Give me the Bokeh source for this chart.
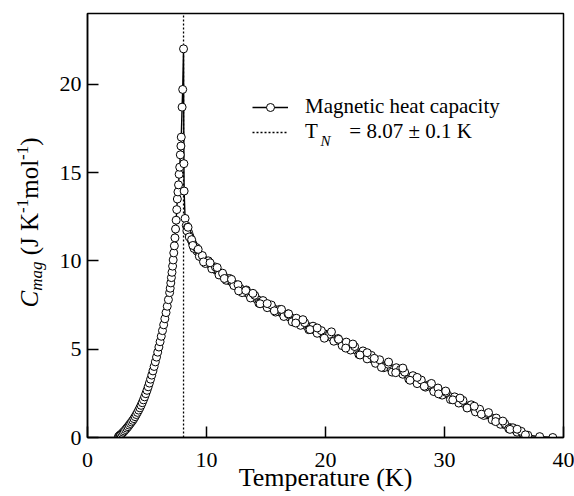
import math
from bokeh.plotting import figure
from bokeh.models import Label, Legend, LegendItem, FixedTicker, Range1d
from bokeh.layouts import row
from bokeh.embed import file_html
from bokeh.resources import INLINE

# ---------------- data ----------------
x_ticks = [0, 10, 20, 30, 40]
y_ticks = [0, 5, 10, 15, 20]
T_N = 8.07

# run A : main measured curve (T in K, C_mag in J K^-1 mol^-1)
runA_T = [2.6, 2.65, 2.7, 2.75, 2.8, 2.9, 3.0, 3.1, 3.2, 3.3, 3.4, 3.5, 3.6, 3.7, 3.8, 3.9,
          4.0, 4.1, 4.2, 4.3, 4.4, 4.5, 4.6, 4.7, 4.8, 4.9, 5.0, 5.1, 5.2, 5.3, 5.4, 5.5,
          5.6, 5.7, 5.8, 5.9, 6.0, 6.1, 6.2, 6.3, 6.4, 6.5, 6.6, 6.7, 6.8, 6.9, 6.95, 7.0,
          7.05, 7.1, 7.15, 7.2, 7.25, 7.3, 7.35, 7.4, 7.45, 7.5, 7.55, 7.6, 7.65, 7.7, 7.75,
          7.8, 7.85, 7.88, 7.95, 8.0, 8.07,
          8.1, 8.12, 8.2, 8.3, 8.4, 8.5, 8.6, 8.7, 8.8, 8.9, 9.0, 9.2, 9.4, 9.6, 9.8, 10.0,
          10.2, 10.4, 10.6, 10.8, 11.0, 11.2, 11.4, 11.6, 11.8, 12.0, 12.2, 12.4, 12.6, 12.8,
          13.0, 13.2, 13.4, 13.6, 13.8, 14.0, 14.2, 14.4, 14.6, 14.8, 15.0, 15.2, 15.4, 15.6,
          15.8, 16.0, 16.2, 16.4, 16.6, 16.8, 17.0, 17.2, 17.4, 17.6, 17.8, 18.0, 18.2, 18.4,
          18.6, 18.8, 19.0, 19.2, 19.4, 19.6, 19.8, 20.0, 20.5, 21.0, 21.5, 22.0, 22.5, 23.0,
          23.5, 24.0, 24.5, 25.0, 25.5, 26.0, 26.5, 27.0, 27.5, 28.0, 28.5, 29.0, 29.5, 30.0,
          30.5, 31.0, 31.5, 32.0, 32.5, 33.0, 33.5, 34.0, 34.5, 35.0, 35.5, 36.0, 36.5, 37.0,
          38.0, 39.1]
runA_C = [0.05, 0.08, 0.11, 0.14, 0.17, 0.23, 0.3, 0.37, 0.45, 0.53, 0.61, 0.7, 0.79, 0.88, 0.97, 1.07,
          1.18, 1.3, 1.42, 1.55, 1.68, 1.82, 1.97, 2.13, 2.3, 2.48, 2.67, 2.87, 3.08, 3.3, 3.53, 3.77,
          4.02, 4.28, 4.55, 4.83, 5.12, 5.42, 5.73, 6.05, 6.38, 6.72, 7.07, 7.43, 7.8, 8.2, 8.45, 8.75,
          9.05, 9.35, 9.7, 10.05, 10.45, 10.85, 11.3, 11.8, 12.3, 12.9, 13.5, 13.9, 14.3, 14.9, 15.3,
          16.0, 16.5, 17.0, 18.7, 19.7, 22.0,
          15.5, 13.95, 12.4, 12.0, 11.9, 11.6, 11.4, 11.2, 11.05, 10.9, 10.8, 10.55, 10.35, 10.2, 10.05, 9.95,
          9.85, 9.72, 9.6, 9.48, 9.37, 9.27, 9.16, 9.05, 8.95, 8.85, 8.75, 8.65, 8.55, 8.45,
          8.36, 8.27, 8.18, 8.09, 8.0, 7.92, 7.84, 7.76, 7.68, 7.6, 7.52, 7.45, 7.38, 7.3,
          7.23, 7.16, 7.09, 7.02, 6.95, 6.88, 6.81, 6.74, 6.67, 6.6, 6.53, 6.46, 6.39, 6.32,
          6.25, 6.18, 6.11, 6.04, 5.97, 5.9, 5.83, 5.85, 5.68, 5.5, 5.33, 5.15, 4.97, 4.78,
          4.6, 4.42, 4.24, 4.06, 3.9, 3.74, 3.58, 3.42, 3.26, 3.1, 2.94, 2.78, 2.62, 2.46,
          2.3, 2.13, 1.96, 1.79, 1.62, 1.45, 1.28, 1.1, 0.92, 0.74, 0.56, 0.4, 0.25, 0.13,
          0.05, 0.0]

# run B : repeated measurement above T_N
runB_T = [8.35, 8.55, 8.75, 8.95, 9.15, 9.4, 9.65, 9.9, 10.15, 10.45, 10.75, 11.05, 11.35, 11.65,
          11.95, 12.3, 12.65, 13.0, 13.35, 13.7, 14.05, 14.4, 14.75, 15.1, 15.45, 15.8, 16.15,
          16.5, 16.85, 17.2, 17.55, 17.9, 18.25, 18.6, 18.95, 19.3, 19.65, 20.0, 20.35, 20.7,
          21.05, 21.4, 21.75, 22.1, 22.45, 22.8, 23.15, 23.5, 23.85, 24.2, 24.55, 24.9, 25.25,
          25.6, 25.95, 26.3, 26.65, 27.0, 27.35, 27.7, 28.05, 28.4, 28.75, 29.1, 29.45, 29.8,
          30.15, 30.5, 30.85, 31.2, 31.55, 31.9, 32.25, 32.6, 32.95, 33.3, 33.65, 34.0, 34.35,
          34.7, 35.05, 35.4, 35.75, 36.1, 36.45, 36.8]
runB_C = [11.7, 11.35, 11.2, 10.7, 10.75, 10.25, 10.3, 9.85, 10.0, 9.55, 9.65, 9.2, 9.3, 8.9,
          9.0, 8.6, 8.65, 8.2, 8.35, 7.9, 8.05, 7.6, 7.75, 7.35, 7.5, 7.1, 7.25,
          6.85, 7.0, 6.55, 6.75, 6.35, 6.5, 6.1, 6.3, 5.9, 6.05, 5.7, 5.85, 5.45,
          5.6, 5.2, 5.4, 4.95, 5.15, 4.7, 4.9, 4.45, 4.65, 4.2, 4.4, 3.95, 4.15,
          3.7, 3.95, 3.85, 3.7, 3.3, 3.5, 3.05, 3.25, 2.85, 3.0, 2.6, 2.8, 2.4,
          2.55, 2.15, 2.3, 1.95, 2.1, 1.7, 1.85, 1.45, 1.6, 1.25, 1.35, 1.0, 1.1,
          0.75, 0.8, 0.5, 0.55, 0.3, 0.35, 0.15]

# run C : third measurement above T_N
runC_T = [8.45, 8.85, 9.3, 9.75, 10.3, 10.9, 11.5, 12.1, 12.7, 13.3, 13.9, 14.5, 15.1, 15.7,
          16.3, 16.9, 17.5, 18.1, 18.7, 19.3, 19.9, 20.5, 21.1, 21.7, 22.3, 22.9, 23.5, 24.1,
          24.7, 25.3, 25.9, 26.5, 27.1, 27.7, 28.3, 28.9, 29.5, 30.1, 30.7, 31.3, 31.9, 32.5,
          33.1, 33.7, 34.3, 34.9, 35.5, 36.1]
runC_C = [11.9, 10.87, 10.65, 9.94, 9.89, 9.62, 9.0, 8.95, 8.3, 8.32, 8.16, 7.57, 7.58, 7.17,
          7.25, 7.0, 6.48, 6.67, 6.11, 6.2, 5.62, 5.98, 5.56, 5.06, 5.29, 4.67, 4.8, 4.48,
          3.97, 4.27, 3.67, 3.93, 3.24, 3.4, 2.9, 3.06, 2.47, 2.63, 2.13, 2.23, 1.67, 1.77,
          1.32, 1.41, 0.9, 0.93, 0.46, 0.47]

legend_labels = ["Magnetic heat capacity", "T\u2003\u2002= 8.07 \u00b1 0.1 K"]
x_title = "Temperature (K)"

# ---------------- layout constants ----------------
FONT = "Liberation Serif"
W, H = 574, 496
LW = 50                     # width of the strip holding the y title
L, R, TOP, B = 87, 11, 13, 59
fw, fh = W - L - R, H - TOP - B
x0, x1, y0, y1 = 0, 40, 0, 24

# ---------------- main figure ----------------
p = figure(width=W - LW, height=H, x_range=Range1d(x0, x1), y_range=Range1d(y0, y1),
           output_backend="svg", toolbar_location=None,
           min_border_left=L - LW, min_border_right=R, min_border_top=TOP, min_border_bottom=B)
p.grid.visible = False
p.outline_line_color = "black"
p.outline_line_width = 1.5
p.background_fill_color = "white"
p.border_fill_color = "white"

for ax, ticks in ((p.xaxis, x_ticks), (p.yaxis, y_ticks)):
    ax.ticker = FixedTicker(ticks=ticks, minor_ticks=[])
    ax.major_tick_in = 11
    ax.major_tick_out = 0
    ax.minor_tick_in = 0
    ax.minor_tick_out = 0
    ax.axis_line_width = 1.5
    ax.major_tick_line_width = 1.5
    ax.major_label_text_font = FONT
    ax.major_label_text_font_size = "22px"
    ax.major_label_text_color = "black"
p.xaxis.major_label_standoff = 15
p.yaxis.major_label_standoff = 6
p.xaxis.axis_label = x_title
p.xaxis.axis_label_text_font = FONT
p.xaxis.axis_label_text_font_style = "normal"
p.xaxis.axis_label_text_font_size = "26px"
p.xaxis.axis_label_text_color = "black"
p.xaxis.axis_label_standoff = -7

# vertical T_N line (spans the whole y range)
tn = p.segment(x0=[T_N], y0=[y0], x1=[T_N], y1=[y1], line_color="black",
               line_dash="2 2", line_width=1.3)

# data
lines = [p.line(xs, ys, line_color="black", line_width=1.4)
         for xs, ys in ((runA_T, runA_C), (runB_T, runB_C), (runC_T, runC_C))]
dots = [p.scatter(xs, ys, marker="circle", size=8, fill_color="white",
                  line_color="black", line_width=1)
        for xs, ys in ((runA_T, runA_C), (runB_T, runB_C), (runC_T, runC_C))]

legend = Legend(items=[LegendItem(label=legend_labels[0], renderers=[lines[0], dots[0]]),
                       LegendItem(label=legend_labels[1], renderers=[tn])],
                location=(165, 293), glyph_width=36, glyph_height=20, label_height=20,
                label_standoff=17, padding=0, margin=0, spacing=0,
                border_line_alpha=0, background_fill_alpha=0,
                label_text_font=FONT, label_text_font_size="21px", label_text_color="black")
p.add_layout(legend)


def dx(px):
    return x0 + (px - L) * (x1 - x0) / fw


def dy(py):
    return y0 + (TOP + fh - py) * (y1 - y0) / fh


# subscript N for T_N in the legend
p.add_layout(Label(x=dx(320), y=dy(140), text="N", text_font=FONT, text_font_style="italic",
                   text_font_size="15px", text_baseline="alphabetic", text_align="left",
                   text_color="black"))

# ---------------- strip with the y-axis title ----------------
# the strip's frame is aligned with the main frame (rows align frames), so its
# y range is expressed as "canvas pixels from the bottom" over the frame extent
q = figure(width=LW, height=H, x_range=Range1d(0, LW), y_range=Range1d(H - (TOP + fh), H - TOP),
           output_backend="svg", toolbar_location=None, x_axis_type=None, y_axis_type=None,
           min_border_left=0, min_border_right=0, min_border_top=TOP, min_border_bottom=B)
q.grid.visible = False
q.outline_line_color = None
q.background_fill_color = "white"
q.border_fill_color = "white"

big, small = 25, 17
# (text, style, font px, baseline shift px, leading gap in em, advance width in em)
pieces = [("C", "italic", big, 0, 0.0, 0.667),
          ("mag", "italic", small, 5, 0.0, 1.722),
          ("(J K", "normal", big, 0, 0.25, 1.694),
          ("-1", "normal", small, -9, 0.0, 0.833),
          ("mol", "normal", big, 0, 0.0, 1.556),
          ("-1", "normal", small, -9, 0.0, 0.833),
          (")", "normal", big, 0, 0.0, 0.333)]
base_x = 37
cur_y = 307
for txt, style, size, shift, gap, wem in pieces:
    cur_y -= gap * size
    w = wem * size
    cx = base_x + shift - 0.34 * size      # middle of the glyph box, left of the baseline
    cy = cur_y - w / 2
    q.add_layout(Label(x=cx, y=H - cy, text=txt, angle=math.pi / 2,
                       text_font=FONT, text_font_style=style, text_font_size=f"{size}px",
                       text_align="center", text_baseline="middle", text_color="black"))
    cur_y -= w

layout = row(q, p)
open("out.html", "w").write(file_html(layout, INLINE))
